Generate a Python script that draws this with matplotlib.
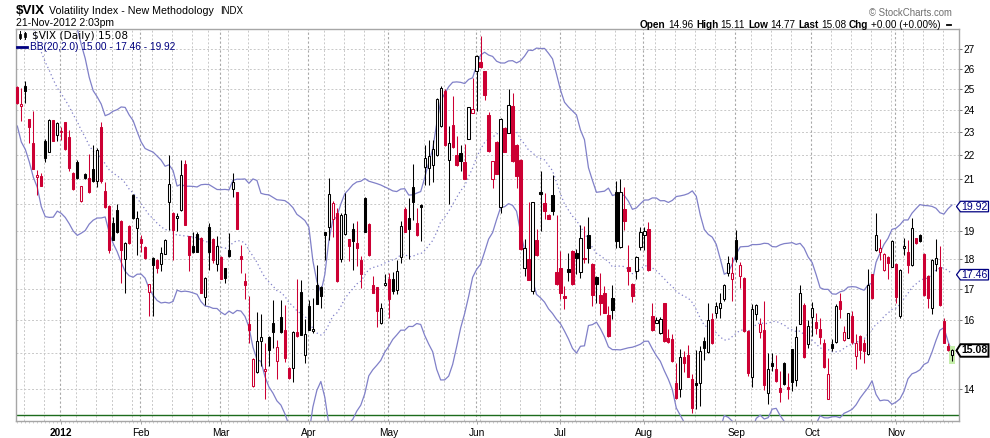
import numpy as np
import pandas as pd
import matplotlib
matplotlib.use('Agg')
import matplotlib.pyplot as plt
from matplotlib.patches import Polygon, Rectangle
from matplotlib.lines import Line2D
from matplotlib.ticker import FixedLocator, NullLocator, FixedFormatter

plt.rcParams['font.family'] = 'Liberation Sans'

# market holidays inside the window
holidays = ['2011-12-26', '2012-01-02', '2012-01-16', '2012-02-20', '2012-04-06',
            '2012-05-28', '2012-07-04', '2012-09-03', '2012-10-29', '2012-10-30']

# closes before the first visible bar (only feed the 20-day bands)
pre_closes = [35.60, 36.40, 35.80, 36.20, 36.00, 32.60, 32.20, 31.80, 31.90, 31.50,
              28.60, 28.20, 27.80, 28.00, 27.40, 28.50, 27.40, 27.60, 26.00]

opens = [25.12, 24.20, 25.15, 23.58, 22.52, 21.09, 21.13, 22.62, 22.13, 23.54,
         22.87, 22.99, 23.46, 22.79, 21.26, 21.72, 20.15, 21.21, 21.06, 21.42,
         20.91, 23.24, 20.53, 19.96, 19.28, 19.80, 19.37, 18.00, 19.19, 20.38,
         19.11, 18.72, 18.43, 16.90, 18.02, 17.98, 17.82, 18.18, 20.11, 19.69,
         19.48, 19.77, 21.63, 18.80, 18.44, 18.90, 18.76, 16.73, 19.14, 18.72,
         17.83, 18.08, 17.69, 18.33, 20.60, 20.47, 18.09, 17.24, 15.86, 14.07,
         14.46, 15.37, 14.48, 15.49, 15.89, 14.78, 16.10, 15.70, 14.57, 14.58,
         15.64, 16.90, 14.94, 16.42, 15.66, 17.12, 17.05, 18.96, 19.14, 19.46,
         19.67, 18.00, 18.89, 18.70, 19.09, 18.56, 17.98, 20.26, 19.27, 17.10,
         17.04, 15.89, 17.10, 17.33, 17.30, 16.94, 18.07, 19.84, 19.49, 20.68,
         19.31, 19.98, 21.49, 21.46, 21.58, 22.00, 23.26, 24.93, 21.80, 23.32,
         22.02, 22.09, 21.70, 22.70, 23.87, 25.87, 26.35, 25.87, 23.77, 20.99,
         22.57, 19.90, 23.20, 22.97, 24.18, 22.45, 21.81, 17.70, 18.01, 16.93,
         18.68, 20.50, 20.05, 19.60, 20.37, 17.55, 17.68, 16.75, 17.67, 18.27,
         18.21, 17.55, 18.03, 18.86, 17.84, 17.38, 16.79, 16.86, 16.14, 16.70,
         20.47, 18.41, 19.82, 17.73, 17.16, 17.58, 18.42, 18.84, 19.09, 16.12,
         15.91, 15.59, 16.52, 15.46, 15.43, 14.17, 13.99, 14.90, 14.94, 14.28,
         14.17, 14.17, 15.36, 15.04, 16.03, 16.20, 16.38, 16.67, 17.52, 17.30,
         18.67, 17.43, 17.36, 15.66, 14.34, 16.17, 15.64, 15.68, 13.89, 14.73,
         14.56, 14.02, 14.71, 14.04, 15.11, 14.24, 15.88, 16.46, 15.28, 16.10,
         15.93, 15.71, 15.29, 13.74, 15.26, 15.33, 16.60, 15.40, 15.46, 16.12,
         14.91, 15.51, 15.31, 14.97, 17.49, 18.30, 18.26, 17.61, 18.07, 17.73,
         17.84, 16.12, 18.39, 18.23, 17.78, 18.74, 18.86, 18.19, 17.43, 16.38,
         17.81, 17.73, 15.96, 15.21, 14.96]

highs = [25.15, 25.06, 25.37, 23.60, 23.96, 21.38, 21.25, 22.70, 23.58, 23.56,
         23.46, 23.25, 23.48, 23.11, 21.28, 21.81, 20.74, 21.25, 22.05, 22.44,
         22.31, 23.46, 20.90, 19.98, 19.53, 20.02, 19.40, 18.60, 19.21, 20.40,
         19.73, 18.86, 18.45, 17.16, 18.07, 18.00, 18.41, 18.70, 22.00, 19.71,
         19.69, 21.80, 21.80, 18.82, 18.98, 18.98, 18.78, 17.38, 19.30, 18.74,
         18.80, 18.10, 17.70, 18.93, 21.27, 20.50, 18.50, 17.52, 16.76, 14.86,
         16.25, 16.19, 15.31, 15.50, 16.62, 15.38, 16.63, 16.46, 14.60, 15.66,
         17.32, 17.27, 16.03, 16.63, 16.70, 17.80, 17.07, 18.98, 21.06, 20.13,
         19.86, 19.67, 20.44, 18.72, 19.29, 19.36, 18.12, 20.30, 19.30, 17.43,
         17.06, 16.52, 17.47, 17.52, 17.56, 17.98, 19.36, 19.91, 20.26, 21.63,
         19.88, 20.00, 22.45, 22.67, 22.67, 24.55, 25.14, 25.00, 23.26, 24.67,
         22.81, 22.45, 22.48, 24.16, 25.54, 26.72, 27.68, 25.90, 23.92, 21.77,
         22.60, 23.62, 23.22, 24.98, 24.82, 22.47, 21.83, 18.72, 20.10, 20.11,
         19.06, 21.35, 20.46, 19.62, 21.19, 19.60, 18.27, 17.07, 18.21, 18.30,
         18.35, 19.21, 19.19, 19.53, 17.86, 17.40, 17.52, 17.07, 16.44, 17.10,
         20.91, 21.00, 20.68, 18.50, 17.18, 18.12, 19.14, 19.14, 19.33, 16.52,
         16.09, 16.10, 16.54, 15.73, 15.56, 14.73, 15.11, 15.06, 15.23, 14.40,
         15.08, 15.21, 15.49, 16.52, 16.21, 16.57, 16.86, 17.14, 18.12, 18.07,
         19.02, 17.91, 17.38, 15.68, 16.49, 16.49, 16.06, 16.60, 15.02, 15.02,
         14.94, 14.49, 14.74, 14.45, 15.13, 15.81, 17.13, 16.54, 16.01, 16.57,
         16.22, 16.06, 15.43, 14.87, 15.43, 16.50, 16.84, 15.81, 16.22, 16.27,
         15.56, 15.53, 15.43, 17.65, 17.50, 19.67, 18.70, 18.21, 18.09, 18.67,
         17.86, 17.65, 18.74, 18.68, 19.48, 18.76, 18.88, 18.21, 17.45, 18.00,
         18.71, 18.46, 16.06, 15.31, 15.11]

lows = [24.30, 23.51, 24.35, 22.54, 21.43, 20.38, 20.74, 21.70, 22.13, 22.60,
        22.63, 22.66, 22.24, 21.35, 20.58, 20.99, 20.08, 20.99, 20.45, 20.89,
        20.70, 20.84, 19.87, 18.21, 18.66, 18.93, 17.18, 16.86, 18.54, 19.45,
        18.15, 18.23, 18.00, 16.13, 16.11, 17.52, 17.58, 18.16, 19.05, 17.96,
        18.99, 19.75, 19.21, 17.58, 18.21, 18.23, 16.84, 16.47, 17.61, 17.87,
        17.60, 17.30, 17.19, 18.07, 20.31, 19.07, 17.52, 16.65, 15.29, 14.05,
        14.45, 14.63, 13.72, 14.63, 15.15, 14.26, 15.60, 14.74, 14.28, 14.19,
        15.49, 15.53, 14.73, 15.68, 15.61, 16.49, 16.36, 17.96, 18.68, 18.78,
        17.22, 17.89, 18.87, 17.92, 17.63, 17.75, 17.02, 18.96, 18.10, 16.84,
        15.77, 15.87, 17.08, 16.05, 16.81, 16.81, 17.87, 18.96, 17.99, 19.40,
        18.80, 18.63, 20.78, 20.78, 20.90, 21.98, 23.24, 22.41, 20.00, 22.32,
        21.56, 21.33, 21.00, 22.68, 23.85, 23.95, 26.05, 24.49, 22.15, 20.63,
        21.20, 19.68, 22.12, 22.95, 21.73, 20.65, 18.32, 17.42, 17.27, 16.82,
        18.11, 19.00, 19.43, 19.43, 19.61, 17.12, 16.65, 16.33, 17.24, 17.13,
        17.50, 17.36, 17.87, 17.87, 16.44, 16.52, 16.15, 16.20, 15.49, 16.03,
        18.39, 18.39, 19.05, 17.13, 16.56, 17.30, 18.30, 18.30, 17.60, 15.67,
        15.90, 15.57, 15.34, 15.31, 14.75, 13.73, 13.77, 14.46, 14.32, 13.37,
        13.46, 13.55, 14.80, 15.02, 15.27, 16.06, 16.06, 16.59, 17.41, 16.59,
        17.91, 17.02, 15.64, 14.35, 14.04, 16.01, 15.46, 13.97, 13.59, 14.49,
        14.19, 13.66, 14.10, 13.72, 13.94, 14.08, 15.86, 14.87, 15.16, 15.51,
        15.56, 15.26, 14.59, 13.72, 15.06, 15.29, 16.06, 15.36, 15.44, 15.26,
        14.56, 14.82, 14.72, 14.95, 16.66, 18.27, 17.98, 17.60, 17.30, 17.71,
        16.54, 16.07, 18.15, 17.52, 17.76, 18.54, 18.60, 16.77, 16.38, 16.17,
        17.58, 16.45, 15.29, 15.06, 14.77]

closes = [24.34, 24.29, 24.93, 23.23, 21.43, 21.17, 20.74, 21.89, 23.54, 22.63,
          23.42, 23.05, 22.26, 21.48, 20.61, 21.05, 20.72, 21.05, 20.47, 20.91,
          22.23, 20.91, 19.89, 18.30, 18.68, 18.95, 18.33, 18.58, 18.56, 19.47,
          19.50, 18.58, 18.02, 17.15, 17.79, 17.68, 18.21, 18.67, 20.80, 19.05,
          19.57, 21.18, 19.23, 18.13, 18.23, 18.25, 16.86, 17.36, 18.23, 17.98,
          18.46, 17.33, 17.35, 18.09, 20.90, 19.09, 18.00, 17.13, 15.69, 14.84,
          15.37, 15.49, 14.54, 15.09, 15.63, 15.19, 15.63, 14.86, 14.30, 15.64,
          15.51, 15.55, 15.58, 15.70, 15.73, 16.51, 16.75, 18.84, 20.41, 20.07,
          17.24, 19.59, 19.62, 18.46, 18.65, 18.38, 17.47, 18.98, 18.13, 16.86,
          16.27, 16.38, 17.19, 16.67, 16.91, 17.58, 19.18, 18.98, 19.06, 20.10,
          18.85, 19.92, 21.88, 21.98, 22.28, 24.53, 25.06, 22.43, 22.52, 22.34,
          21.58, 21.77, 21.03, 24.14, 24.04, 26.64, 26.07, 24.73, 22.17, 21.75,
          21.23, 23.60, 22.14, 24.25, 21.75, 21.13, 18.34, 18.40, 17.29, 20.09,
          18.13, 20.42, 19.73, 19.45, 19.73, 17.14, 16.86, 16.70, 17.55, 17.15,
          18.02, 18.74, 17.99, 18.39, 16.79, 17.15, 16.54, 16.22, 15.51, 16.31,
          18.65, 20.47, 19.36, 17.60, 16.75, 18.07, 18.96, 19.01, 17.61, 15.69,
          16.01, 16.03, 15.36, 15.33, 14.77, 13.75, 14.90, 14.73, 14.34, 13.50,
          14.10, 15.07, 15.16, 16.01, 15.29, 16.42, 16.54, 17.12, 17.87, 17.52,
          18.01, 17.80, 15.66, 14.43, 16.35, 16.47, 15.86, 14.11, 14.56, 14.63,
          14.21, 13.92, 14.12, 13.99, 14.19, 15.49, 16.86, 14.89, 15.80, 16.38,
          15.76, 15.49, 14.61, 14.40, 15.16, 16.42, 16.33, 15.63, 16.20, 15.33,
          15.29, 15.09, 15.06, 17.10, 16.68, 18.86, 18.39, 18.19, 17.87, 18.65,
          16.73, 17.63, 18.46, 17.78, 19.11, 18.56, 18.62, 16.79, 16.70, 17.98,
          18.03, 16.47, 15.31, 15.08, 15.08]

# band readouts printed on the chart (lower, middle, upper)
bb_last = [15.00, 17.46, 19.92]
y_ticks = list(range(14, 28))
hidden_ticks = [15, 20]   # covered by the value tags

dates = pd.bdate_range('2011-12-15', '2012-11-21')
dates = dates[~dates.isin(pd.to_datetime(holidays))]

W, H = 990, 438


def fx(px):
    return px / W


def fy(py):
    return 1 - py / H


fig = plt.figure(figsize=(W / 100, H / 100), dpi=100)
ax = fig.add_axes([fx(16), fy(421.3), (958.7 - 16) / W, (421.3 - 29) / H])
ax.set_yscale('log')
ax.set_ylim(13.15, 28.08)
ax.set_xlim(-0.33, 235.7)

n = len(closes)
x = np.arange(n)
o = np.array(opens)
hi = np.array(highs)
lo = np.array(lows)
c = np.array(closes)
prev = np.concatenate([[pre_closes[-1]], c[:-1]])
RED = '#cc0033'
col = np.where(c < prev, RED, 'black')
face = np.where(c < o, col, 'white')

# bollinger bands 20, 2
allc = pd.Series(pre_closes + closes)
mid = allc.rolling(20).mean().values[-n:]
sd = allc.rolling(20).std(ddof=0).values[-n:]
upper = mid + 2 * sd
lower = mid - 2 * sd

# grid
for v in y_ticks:
    ax.axhline(v, color='#c8c8c8', lw=0.7, dashes=(2, 2), zorder=0)
week_start = [k for k in range(1, n) if dates[k].weekday() < dates[k - 1].weekday()]
month_start = [k for k in range(1, n) if dates[k].month != dates[k - 1].month]
for k in week_start:
    if k not in month_start:
        ax.axvline(k - 0.25, color='#c8c8c8', lw=0.7, dashes=(2, 2), zorder=0)
for k in month_start:
    ax.axvline(k - 0.25, color='#a8a8a8', lw=0.8, dashes=(2, 2), zorder=0)

ax.axhline(13.31, color='#1c6b1c', lw=1.0, zorder=1)

BB = '#8080c8'
ax.plot(x, upper, color=BB, lw=0.9, zorder=2)
ax.plot(x, lower, color=BB, lw=0.9, zorder=2)
ax.plot(x, mid, color=BB, lw=0.9, dashes=(1, 2.2), zorder=2)

# highlight behind the latest bar
ax.add_patch(Rectangle((n - 1 - 0.8, lo[-1] * 0.994), 1.6, hi[-1] * 1.006 - lo[-1] * 0.994,
                       facecolor='#c5eeaa', edgecolor='none', zorder=2.5))

# candles
ax.vlines(x, lo, hi, colors=col, lw=0.75, zorder=3)
bot = np.minimum(o, c)
top = np.maximum(o, c)
ax.bar(x, top - bot, bottom=bot, width=0.58, color=face, edgecolor=col,
       linewidth=0.75, zorder=4)

# axes styling
for s in ax.spines.values():
    s.set_color('#a6a6a6')
    s.set_linewidth(1.0)
ax.yaxis.tick_right()
ax.yaxis.set_major_locator(FixedLocator(y_ticks))
ax.yaxis.set_major_formatter(FixedFormatter(['' if v in hidden_ticks else str(v)
                                             for v in y_ticks]))
ax.yaxis.set_minor_locator(NullLocator())
ax.tick_params(axis='y', which='major', length=2.2, width=0.7, color='#777777',
               pad=1, labelsize=7.3, labelcolor='black')

ax.set_xticks(month_start)
xlabels = ['2012' if dates[k].month == 1 else dates[k].strftime('%b') for k in month_start]
ax.set_xticklabels(xlabels)
for t, k in zip(ax.get_xticklabels(), month_start):
    if dates[k].month == 1:
        t.set_fontweight('bold')
ax.set_xticks(x, minor=True)
ax.tick_params(axis='x', which='major', length=2.5, width=0.6, color='#999999',
               pad=2, labelsize=7.3)
ax.tick_params(axis='x', which='minor', length=1.5, width=0.5, color='#bbbbbb')

# legend inside plot
fig.add_artist(Line2D([fx(19.7), fx(19.7)], [fy(31), fy(39)], color='black', lw=0.7))
fig.add_artist(Rectangle((fx(18.5), fy(37.5)), 2.6 / W, 4 / H, facecolor='black',
                         edgecolor='black', lw=0.5, transform=fig.transFigure))
fig.add_artist(Line2D([fx(25), fx(25)], [fy(32), fy(38.5)], color='black', lw=0.7))
fig.add_artist(Rectangle((fx(23.7), fy(37)), 2.6 / W, 4 / H, facecolor='white',
                         edgecolor='black', lw=0.6, transform=fig.transFigure))
fig.text(fx(32), fy(39), r'\$VIX (Daily) %.2f' % closes[-1], fontsize=7.6,
         family='DejaVu Sans', va='baseline')
fig.add_artist(Line2D([fx(16.5), fx(27)], [fy(46.7), fy(46.7)], color='#000080', lw=2))
fig.text(fx(30), fy(50.3), 'BB(20,2.0) %.2f - %.2f - %.2f' % tuple(bb_last),
         fontsize=7.3, color='#000080', va='baseline')

# header
fig.text(fx(16), fy(14.5), r'\$VIX', fontsize=9.6, weight='bold', va='baseline')
fig.text(fx(49), fy(14.3), 'Volatility Index - New Methodology', fontsize=7.7, va='baseline')
fig.text(fx(220), fy(14.3), 'INDX', fontsize=7, va='baseline')
fig.text(fx(16), fy(26), '21-Nov-2012 2:03pm', fontsize=7.5, va='baseline')
fig.text(fx(951.5), fy(15.5), '\u00a9 StockCharts.com', fontsize=6.9, color='#6e6e6e',
         ha='right', va='baseline')

chg = closes[-1] - closes[-2]
pct = chg / closes[-2] * 100
parts = [('Open', True), ('%.2f' % opens[-1], False), ('High', True),
         ('%.2f' % highs[-1], False), ('Low', True), ('%.2f' % lows[-1], False),
         ('Last', True), ('%.2f' % closes[-1], False), ('Chg', True),
         ('%+.2f (%+.2f%%)' % (chg, pct), False)]
prev_t = fig.text(fx(640), fy(29.5), parts[0][0], fontsize=7.2, weight='bold', va='bottom')
for s, b in parts[1:]:
    gap = 2.2 if b else 1.6
    prev_t = ax.annotate(s, xy=(1, 0), xycoords=prev_t, xytext=(gap, 0),
                         textcoords='offset points', fontsize=7.2,
                         weight='bold' if b else 'normal', va='bottom', ha='left',
                         annotation_clip=False)
fig.add_artist(Line2D([fx(946.5), fx(951)], [fy(24.7), fy(24.7)], color='black', lw=1.3))


# value tags on the right
def tag(v, txt, ec, tc, bold, hgt, lw):
    yc = H - ax.transData.transform((0, v))[1]
    pts = [(956.5, yc), (960.5, yc - hgt / 2), (988.5, yc - hgt / 2),
           (988.5, yc + hgt / 2), (960.5, yc + hgt / 2)]
    fig.add_artist(Polygon([(fx(a), fy(b)) for a, b in pts], closed=True,
                           transform=fig.transFigure, facecolor='white',
                           edgecolor=ec, lw=lw, zorder=5))
    fig.text(fx(974.5), fy(yc), txt, ha='center', va='center', color=tc,
             fontsize=7.6, weight='bold' if bold else 'normal', zorder=6)


tag(bb_last[2], '%.2f' % bb_last[2], '#000080', '#000080', False, 10.5, 0.9)
tag(bb_last[1], '%.2f' % bb_last[1], '#000080', '#000080', False, 10.5, 0.9)
tag(closes[-1], '%.2f' % closes[-1], 'black', 'black', True, 12.5, 1.4)

fig.savefig('out.png', dpi=100)
